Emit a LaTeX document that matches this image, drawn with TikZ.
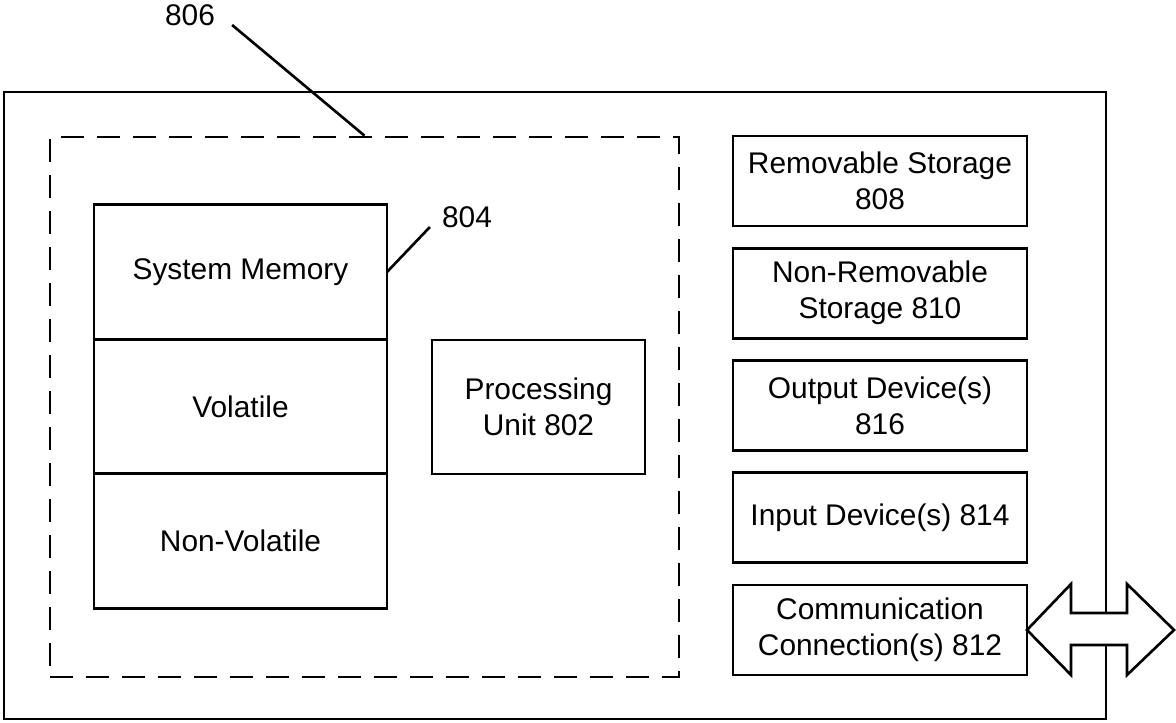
\documentclass[tikz,border=0pt]{standalone}
\usepackage{fontspec}
\setmainfont{Liberation Sans}
\usetikzlibrary{positioning}
\begin{document}
\begin{tikzpicture}[
  line width=1.5pt,
  box/.style={draw, rectangle, outer sep=0pt, align=center, font=\fontsize{17}{20.5}\selectfont},
  membox/.style={box, minimum width=5.86cm, minimum height=2.69cm},
  devbox/.style={box, minimum width=5.88cm, minimum height=1.8cm},
  refnum/.style={font=\fontsize{17}{20.5}\selectfont}
]
  \useasboundingbox (0,0) rectangle (23.52,14.46);

  % Gehaeuse
  \draw (22.12,2.20) -- (22.12,12.62) -- (0.08,12.62) -- (0.08,0.08) -- (22.12,0.08) -- (22.12,1.56);

  % Kern (gestrichelt)
  \node[draw, dash pattern=on 0.46cm off 0.26cm, minimum width=12.58cm, minimum height=10.8cm] (core) at (7.29,6.32) {};

  % Speicher
  \node[membox] (sysmem) at (4.81,9.02) {System Memory};
  \node[membox, below=0pt of sysmem] (volatile) {Volatile};
  \node[membox, below=0pt of volatile] (nonvolatile) {Non-Volatile};

  % Prozessor
  \node[box, minimum width=4.26cm, minimum height=2.68cm] (cpu) at (10.77,6.32) {Processing\\Unit 802};

  % Geraete
  \node[devbox] (remstore) at (17.60,10.84) {Removable Storage\\808};
  \node[devbox, below=0.445cm of remstore] (nonremstore) {Non-Removable\\Storage 810};
  \node[devbox, below=0.445cm of nonremstore] (output) {Output Device(s)\\816};
  \node[devbox, below=0.445cm of output] (input) {Input Device(s) 814};
  \node[devbox, below=0.445cm of input] (comm) {Communication\\Connection(s) 812};

  % Doppelpfeil
  \draw (comm.east) -- ++(0.88,0.92) -- ++(0,-0.58) -- ++(1.12,0) -- ++(0,0.58)
    -- ++(0.94,-0.92) -- ++(-0.94,-0.90) -- ++(0,0.60) -- ++(-1.12,0) -- ++(0,-0.60) -- cycle;

  % Bezugszeichen
  \node[refnum] (lbl806) at (3.80,14.16) {806};
  \draw ([xshift=0.2cm,yshift=-0.2cm]lbl806.east) -- (core.north);
  \node[refnum] (lbl804) at (9.34,10.12) {804};
  \draw ([xshift=-0.1cm,yshift=-0.2cm]lbl804.west) -- (sysmem.east);
\end{tikzpicture}
\end{document}
